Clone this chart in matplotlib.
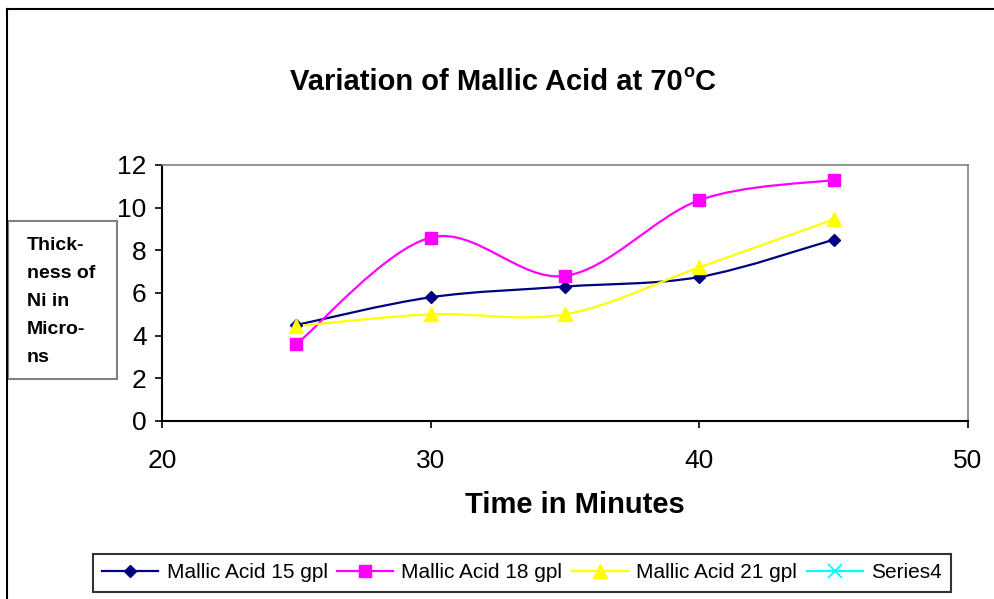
import numpy as np
import matplotlib
matplotlib.use("Agg")
import matplotlib.pyplot as plt
from matplotlib.path import Path
from matplotlib.patches import PathPatch, Rectangle
from matplotlib.lines import Line2D

plt.rcParams['font.family'] = ['Liberation Sans', 'DejaVu Sans']

# data
time = [25, 30, 35, 40, 45]
acid15 = [4.5, 5.8, 6.3, 6.75, 8.5]
acid18 = [3.6, 8.6, 6.8, 10.35, 11.3]
acid21 = [4.45, 5.0, 5.0, 7.2, 9.45]
labels = ["Mallic Acid 15 gpl", "Mallic Acid 18 gpl", "Mallic Acid 21 gpl", "Series4"]
ylabel_lines = ["Thick-", "ness of", "Ni in", "Micro-", "ns"]


def smooth_path(x, y):
    # excel style smoothed line: cubic bezier through every point
    p = np.column_stack([x, y]).astype(float)
    n = len(p)
    verts = [p[0]]
    codes = [Path.MOVETO]
    for i in range(n - 1):
        p0 = p[i - 1] if i > 0 else p[i]
        p3 = p[i + 2] if i + 2 < n else p[i + 1]
        c1 = p[i] + (p[i + 1] - p0) / 6
        c2 = p[i + 1] - (p3 - p[i]) / 6
        verts += [c1, c2, p[i + 1]]
        codes += [Path.CURVE4] * 3
    return Path(verts, codes)


W, H = 995, 599
fig = plt.figure(figsize=(W / 100, H / 100), dpi=100)
ax = fig.add_axes([162 / W, 1 - 421 / H, (968 - 162) / W, (421 - 165) / H])

series = [
    (acid15, "#000080", "D", 6.2),
    (acid18, "#FF00FF", "s", 8.4),
    (acid21, "#FFFF00", "^", 9.6),
]
handles = []
for (vals, col, mk, ms), lab in zip(series, labels):
    ax.add_patch(PathPatch(smooth_path(time, vals), facecolor="none",
                           edgecolor=col, lw=1.6, zorder=2))
    ax.plot(time, vals, ls="none", marker=mk, ms=ms, color=col, zorder=3)
    handles.append(Line2D([], [], color=col, lw=1.6, marker=mk, ms=ms))
handles.append(Line2D([], [], color="#00FFFF", lw=1.6, marker="x", ms=10, mew=1.3))

ax.set_xlim(20, 50)
ax.set_ylim(0, 12)
ax.set_xticks([20, 30, 40, 50])
ax.set_yticks(range(0, 13, 2))
ax.tick_params(axis="both", direction="out", length=5, width=1.2, labelsize=19)
ax.tick_params(axis="x", pad=15)
ax.tick_params(axis="y", pad=6)
for s in ["top", "right"]:
    ax.spines[s].set_color("#808080")
    ax.spines[s].set_linewidth(1.2)
for s in ["left", "bottom"]:
    ax.spines[s].set_linewidth(1.5)

# chart title, with a small raised "o" for degrees
t1 = fig.text(290 / W, 1 - 82 / H, "Variation of Mallic Acid at 70",
              ha="left", va="center", fontsize=21, fontweight="bold")
o_ann = fig.add_artist(plt.Annotation("o", xy=(1, 0), xycoords=t1,
                                      xytext=(0.5, 13.5), textcoords="offset points",
                                      ha="left", va="baseline",
                                      fontsize=13, fontweight="bold"))
fig.add_artist(plt.Annotation("C", xy=(1, 0), xycoords=(o_ann, t1), ha="left", va="bottom",
                              fontsize=21, fontweight="bold"))

fig.text(575 / W, 1 - 505 / H, "Time in Minutes", ha="center", va="center",
         fontsize=21, fontweight="bold")

# y label box
fig.add_artist(Rectangle((8 / W, 1 - 379 / H), 109 / W, 158 / H,
                         transform=fig.transFigure, facecolor="white",
                         edgecolor="#808080", lw=1.5))
for i, line in enumerate(ylabel_lines):
    fig.text(27 / W, 1 - (250 + 28 * i) / H, line, ha="left", va="baseline",
             fontsize=14, fontweight="bold")

# outer chart border (left and top visible)
fig.add_artist(Line2D([7.5 / W, 7.5 / W], [0, 1 - 9 / H], transform=fig.transFigure,
                      color="black", lw=1.5))
fig.add_artist(Line2D([7.5 / W, 1], [1 - 9 / H, 1 - 9 / H], transform=fig.transFigure,
                      color="black", lw=1.5))

leg = fig.legend(handles, labels, loc="center", bbox_to_anchor=(522 / W, 1 - 573 / H),
                 ncol=4, fontsize=15, frameon=True, fancybox=False,
                 handlelength=2.7, handletextpad=0.4, columnspacing=0.45,
                 borderpad=0.45, borderaxespad=0)
leg.get_frame().set_edgecolor("black")
leg.get_frame().set_linewidth(1.5)

fig.savefig("out.png", dpi=100)
